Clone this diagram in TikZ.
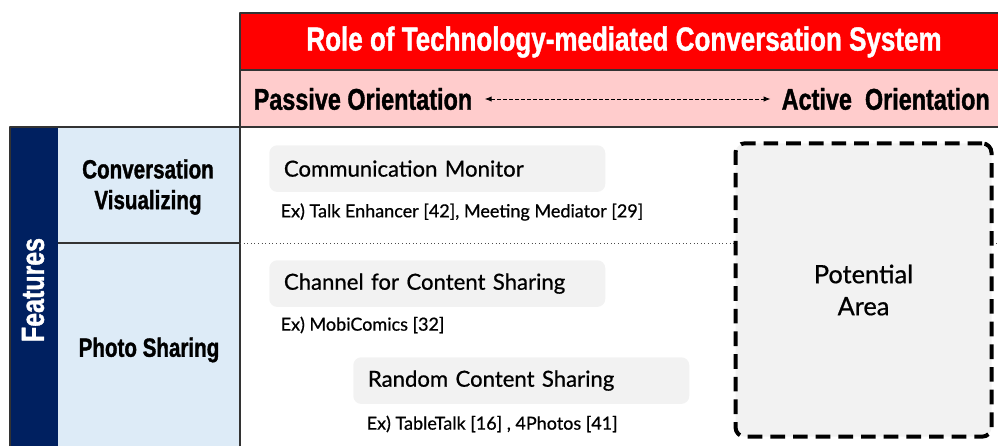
\documentclass[tikz,border=0pt]{standalone}
\usepackage{fontspec}
\setmainfont[FakeBold=0.7]{Lato}
\newfontfamily\condfont[FakeStretch=0.78,BoldFeatures={FakeBold=1.2}]{Liberation Sans}
\usetikzlibrary{arrows.meta}
\definecolor{headred}{HTML}{FF0000}
\definecolor{headpink}{HTML}{FFCCCC}
\definecolor{navy}{HTML}{002060}
\definecolor{paleblue}{HTML}{DDEBF7}
\definecolor{boxgray}{HTML}{F2F2F2}

\begin{document}
\begin{tikzpicture}[x=0.75pt,y=-0.75pt,line join=bevel]
  \tikzstyle{grid}=[draw=black!80,line width=0.9pt]
  \tikzstyle{feature}=[align=center,font=\condfont\bfseries\fontsize{19.8}{23}\selectfont]
  \tikzstyle{orient}=[anchor=west,font=\condfont\bfseries\fontsize{22.5}{24}\selectfont]
  \tikzstyle{role}=[anchor=north west,fill=boxgray,rounded corners=6pt,text width=230pt,
                    align=left,inner xsep=11pt,minimum height=35pt,
                    font=\fontsize{16.6}{19}\selectfont]
  \tikzstyle{example}=[anchor=west,font=\fontsize{13.5}{15}\selectfont]
  \useasboundingbox (0,0) rectangle (998,446);
  \fill[headred] (240,13) rectangle (998,70);
  \fill[headpink] (240,70) rectangle (998,127);
  \fill[navy] (10,127) rectangle (58,446);
  \fill[paleblue] (58,127) rectangle (240,446);
  \draw[grid] (240,446) -- (240,13) -- (998,13);
  \draw[grid] (240,70) -- (998,70);
  \draw[grid] (10,446) -- (10,127) -- (998,127);
  \draw[grid] (58,243) -- (240,243);
  \draw[black!70,line width=0.7pt,dotted] (240,243) -- (998,243);
  \node[text=white,font=\condfont\bfseries\fontsize{25}{28}\selectfont] (title) at (624,42)
    {Role of Technology-mediated Conversation System};
  \node[orient] (passive) at (249,99) {Passive Orientation};
  \node[orient] (active) at (777,99) {Active\ \ Orientation};
  \path (passive) edge[{Latex[length=5pt,width=4pt]}-{Latex[length=5pt,width=4pt]},
        line width=0.6pt,dash pattern=on 2.5pt off 2pt,shorten <=6pt,shorten >=5pt] (active);
  \node[text=white,rotate=90,font=\condfont\bfseries\fontsize{24}{28}\selectfont] (feat) at (33,290) {Features};
  \node[feature] (convis) at (148,187) {Conversation\\Visualizing};
  \node[feature] (photo) at (149,350) {Photo Sharing};
  \node[role] (monitor) at (269,145) {Communication Monitor};
  \node[example] (monitorex) at (276,212) {Ex) Talk Enhancer [42], Meeting Mediator [29]};
  \node[role] (channel) at (269,260) {Channel for Content Sharing};
  \node[example] (channelex) at (276,325) {Ex) MobiComics [32]};
  \node[role] (random) at (353,357) {Random Content Sharing};
  \node[example] (randomex) at (362,424) {Ex) TableTalk [16] , 4Photos [41]};
  \node[draw,fill=boxgray,line width=3pt,dash pattern=on 11pt off 6pt,rounded corners=7pt,
        minimum width=192pt,minimum height=220pt,align=center,
        font=\fontsize{19}{24}\selectfont] (potential) at (863.5,290) {Potential\\Area};
\end{tikzpicture}
\end{document}
